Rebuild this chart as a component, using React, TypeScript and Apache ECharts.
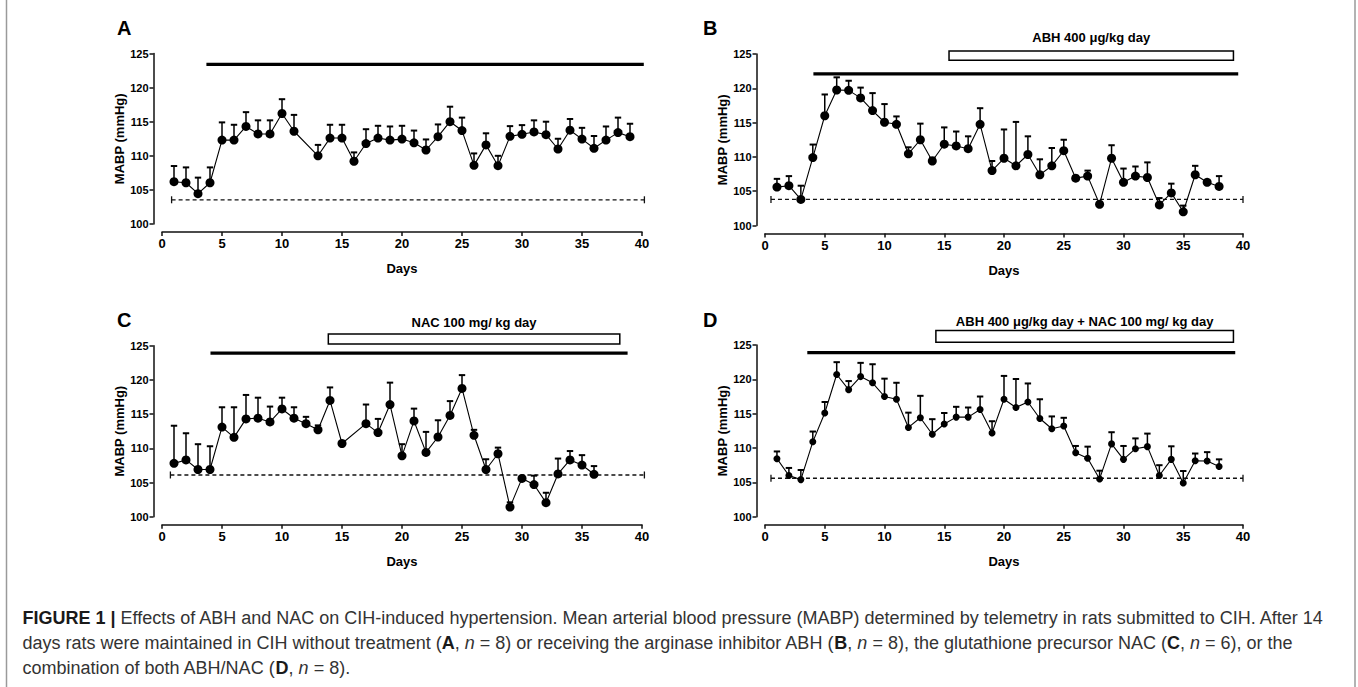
import React, { useEffect, useRef } from "react";
import * as echarts from "echarts";

const FONT = '"Liberation Sans", Arial, Helvetica, sans-serif';

// ---------- Data ----------
const daysA = [1, 2, 3, 4, 5, 6, 7, 8, 9, 10, 11, 13, 14, 15, 16, 17, 18, 19, 20, 21, 22, 23, 24, 25, 26, 27, 28, 29, 30, 31, 32, 33, 34, 35, 36, 37, 38, 39];
const meanA = [106.2, 106.05, 104.45, 106.05, 112.3, 112.3, 114.3, 113.2, 113.2, 116.2, 113.6, 110.0, 112.6, 112.6, 109.2, 111.8, 112.6, 112.3, 112.45, 111.9, 110.85, 112.8, 115.0, 113.7, 108.6, 111.6, 108.55, 112.85, 113.15, 113.5, 113.1, 111.0, 113.75, 112.45, 111.1, 112.3, 113.4, 112.8];
const semA = [2.3, 2.25, 2.35, 2.25, 2.6, 2.25, 2.1, 2.0, 2.0, 2.1, 2.4, 1.6, 1.95, 1.95, 1.3, 2.1, 1.8, 2.0, 1.95, 1.8, 1.55, 1.8, 2.2, 1.9, 1.75, 1.7, 1.45, 1.5, 1.35, 1.7, 1.9, 1.5, 1.65, 1.65, 1.8, 2.0, 2.2, 1.9];

const daysB = [1, 2, 3, 4, 5, 6, 7, 8, 9, 10, 11, 12, 13, 14, 15, 16, 17, 18, 19, 20, 21, 22, 23, 24, 25, 26, 27, 28, 29, 30, 31, 32, 33, 34, 35, 36, 37, 38];
const meanB = [105.6, 105.8, 103.8, 109.9, 116.0, 119.75, 119.7, 118.6, 116.75, 115.05, 114.75, 110.45, 112.5, 109.4, 111.85, 111.6, 111.2, 114.75, 108.0, 109.8, 108.7, 110.35, 107.4, 108.7, 110.9, 106.9, 107.2, 103.1, 109.8, 106.3, 107.2, 107.0, 103.0, 104.75, 102.0, 107.4, 106.3, 105.7];
const semB = [1.2, 1.4, 2.0, 1.9, 3.1, 1.85, 1.4, 1.5, 2.55, 2.65, 1.15, 0.95, 2.35, 0.5, 2.45, 2.1, 1.8, 2.35, 1.4, 4.2, 6.4, 2.65, 2.25, 2.6, 1.6, 0.3, 0.8, 0.2, 1.9, 2.0, 1.4, 2.2, 1.0, 1.35, 0.9, 1.3, 0.35, 1.5];

const daysC = [1, 2, 3, 4, 5, 6, 7, 8, 9, 10, 11, 12, 13, 14, 15, 17, 18, 19, 20, 21, 22, 23, 24, 25, 26, 27, 28, 29, 30, 31, 32, 33, 34, 35, 36];
const meanC = [107.8, 108.3, 106.9, 106.9, 113.1, 111.6, 114.3, 114.4, 113.85, 115.75, 114.4, 113.6, 112.7, 117.0, 110.7, 113.6, 112.3, 116.4, 108.9, 114.0, 109.4, 111.65, 114.8, 118.75, 111.9, 106.9, 109.2, 101.4, 105.6, 104.7, 102.05, 106.25, 108.3, 107.55, 106.2];
const semC = [5.5, 3.9, 3.7, 3.4, 2.9, 4.4, 3.5, 3.0, 2.25, 1.65, 1.6, 1.0, 0.65, 1.9, 0.3, 2.8, 2.0, 3.2, 1.7, 1.8, 3.0, 2.45, 2.1, 1.95, 0.8, 1.5, 0.9, 0.7, 0.3, 1.3, 1.45, 2.25, 1.3, 1.45, 1.2];

const daysD = [1, 2, 3, 4, 5, 6, 7, 8, 9, 10, 11, 12, 13, 14, 15, 16, 17, 18, 19, 20, 21, 22, 23, 24, 25, 26, 27, 28, 29, 30, 31, 32, 33, 34, 35, 36, 37, 38];
const meanD = [108.45, 106.0, 105.4, 110.9, 115.1, 120.7, 118.5, 120.4, 119.5, 117.5, 117.1, 113.0, 114.4, 112.0, 113.5, 114.5, 114.5, 115.6, 112.2, 117.1, 115.9, 116.7, 114.3, 112.8, 113.2, 109.3, 108.5, 105.5, 110.6, 108.35, 109.9, 110.2, 106.0, 108.35, 104.9, 108.15, 108.1, 107.3];
const semD = [1.05, 1.1, 1.4, 1.5, 1.6, 1.8, 1.25, 2.0, 2.7, 2.6, 2.4, 2.15, 3.2, 2.2, 1.6, 1.5, 1.4, 1.9, 1.7, 3.4, 4.15, 2.7, 2.8, 1.8, 1.2, 1.0, 1.7, 1.2, 1.7, 1.95, 1.5, 1.9, 1.5, 1.9, 1.75, 1.05, 1.3, 1.05];

// baseline (dashed) : [startDay, endDay, value]
const baselineA = [0.8, 40.2, 103.55];
const baselineB = [0.5, 40.0, 103.8];
const baselineC = [0.7, 40.2, 106.1];
const baselineD = [0.5, 40.0, 105.6];

// CIH period bar : [startDay, endDay, value]
const cihA = [3.7, 40.15, 123.4];
const cihB = [4.05, 39.6, 122.1];
const cihC = [4.04, 38.8, 123.9];
const cihD = [3.54, 39.35, 123.9];

// treatment box : [startDay, endDay, low, high]
const treatB = [15.4, 39.2, 124.1, 125.45];
const treatC = [13.86, 38.15, 125.25, 126.7];
const treatD = [14.3, 39.2, 125.4, 127.1];

const treatLabelB = "ABH 400 μg/kg day";
const treatLabelC = "NAC 100 mg/ kg day";
const treatLabelD = "ABH 400 μg/kg day + NAC 100 mg/ kg day";

const panelLetters = ["A", "B", "C", "D"];
const yTickMin = 100;
const yTickMax = 125;
const xTickMin = 0;
const xTickMax = 40;

const panels = [
  { letter: "A", days: daysA, mean: meanA, sem: semA, base: baselineA, cih: cihA, treat: null, label: "", labelGap: 11, grid: { left: 162, top: 53.5, width: 480, height: 170.5 }, sym: 9 },
  { letter: "B", days: daysB, mean: meanB, sem: semB, base: baselineB, cih: cihB, treat: treatB, label: treatLabelB, labelGap: 13, grid: { left: 765, top: 54, width: 478, height: 171.5 }, sym: 9 },
  { letter: "C", days: daysC, mean: meanC, sem: semC, base: baselineC, cih: cihC, treat: treatC, label: treatLabelC, labelGap: 12, grid: { left: 162, top: 345.7, width: 480, height: 171 }, sym: 9 },
  { letter: "D", days: daysD, mean: meanD, sem: semD, base: baselineD, cih: cihD, treat: treatD, label: treatLabelD, labelGap: 9.5, grid: { left: 765, top: 345, width: 478, height: 171.7 }, sym: 7 },
];

const captionLines = [
  "{b|FIGURE 1 |} Effects of ABH and NAC on CIH-induced hypertension. Mean arterial blood pressure (MABP) determined by telemetry in rats submitted to CIH. After 14",
  "days rats were maintained in CIH without treatment ({b|A}, {i|n} = 8) or receiving the arginase inhibitor ABH ({b|B}, {i|n} = 8), the glutathione precursor NAC ({b|C}, {i|n} = 6), or the",
  "combination of both ABH/NAC ({b|D}, {i|n} = 8).",
];

export default function App() {
  const ref = useRef<HTMLDivElement>(null);

  useEffect(() => {
    if (!ref.current) return;
    const chart = echarts.init(ref.current, null, { renderer: "svg" });

    const axisColor = "#111";
    const series: any[] = [];

    panels.forEach((p, i) => {
      // error bars (upper only)
      series.push({
        type: "custom",
        xAxisIndex: i,
        yAxisIndex: i,
        z: 2,
        data: p.days.map((d, k) => [d, p.mean[k], p.mean[k] + p.sem[k]]),
        encode: { x: 0, y: [1, 2] },
        renderItem: (params: any, api: any) => {
          const x = api.value(0);
          const m = api.value(1);
          const u = api.value(2);
          const p0 = api.coord([x, m]);
          const p1 = api.coord([x, u]);
          const hw = 3.2;
          return {
            type: "group",
            children: [
              { type: "line", shape: { x1: p0[0], y1: p0[1], x2: p1[0], y2: p1[1] }, style: { stroke: "#000", lineWidth: 1.5 } },
              { type: "line", shape: { x1: p1[0] - hw, y1: p1[1], x2: p1[0] + hw, y2: p1[1] }, style: { stroke: "#000", lineWidth: 2 } },
            ],
          };
        },
      });
      // mean line
      series.push({
        type: "line",
        xAxisIndex: i,
        yAxisIndex: i,
        z: 3,
        data: p.days.map((d, k) => [d, p.mean[k]]),
        symbol: "circle",
        symbolSize: p.sym,
        showSymbol: true,
        lineStyle: { color: "#000", width: 1.1 },
        itemStyle: { color: "#000" },
      });
      // dashed baseline with end caps
      series.push({
        type: "custom",
        xAxisIndex: i,
        yAxisIndex: i,
        z: 1,
        data: [p.base],
        renderItem: (params: any, api: any) => {
          const a = api.coord([api.value(0), api.value(2)]);
          const b = api.coord([api.value(1), api.value(2)]);
          const h = 3.5;
          return {
            type: "group",
            children: [
              { type: "line", shape: { x1: a[0], y1: a[1], x2: b[0], y2: b[1] }, style: { stroke: "#111", lineWidth: 1.3, lineDash: [4, 3] } },
              { type: "line", shape: { x1: a[0], y1: a[1] - h, x2: a[0], y2: a[1] + h }, style: { stroke: "#111", lineWidth: 1.3 } },
              { type: "line", shape: { x1: b[0], y1: b[1] - h, x2: b[0], y2: b[1] + h }, style: { stroke: "#111", lineWidth: 1.3 } },
            ],
          };
        },
      });
      // CIH bar
      series.push({
        type: "custom",
        xAxisIndex: i,
        yAxisIndex: i,
        z: 1,
        data: [p.cih],
        renderItem: (params: any, api: any) => {
          const a = api.coord([api.value(0), api.value(2)]);
          const b = api.coord([api.value(1), api.value(2)]);
          return { type: "line", shape: { x1: a[0], y1: a[1], x2: b[0], y2: b[1] }, style: { stroke: "#000", lineWidth: 3.2 } };
        },
      });
      // treatment box + label
      if (p.treat) {
        const label = p.label;
        const gap = p.labelGap;
        series.push({
          type: "custom",
          xAxisIndex: i,
          yAxisIndex: i,
          z: 1,
          data: [p.treat],
          renderItem: (params: any, api: any) => {
            const tl = api.coord([api.value(0), api.value(3)]);
            const br = api.coord([api.value(1), api.value(2)]);
            return {
              type: "group",
              children: [
                { type: "rect", shape: { x: tl[0], y: tl[1], width: br[0] - tl[0], height: br[1] - tl[1] }, style: { fill: "#fff", stroke: "#000", lineWidth: 1.5 } },
                { type: "text", style: { text: label, x: (tl[0] + br[0]) / 2, y: tl[1] - gap, align: "center", verticalAlign: "middle", fontFamily: FONT, fontWeight: "bold", fontSize: 13, fill: "#000" } },
              ],
            };
          },
        });
      }
    });

    const graphics: any[] = [];
    const letterPos = [
      [117, 28],
      [703, 28],
      [117, 320],
      [703, 320],
    ];
    panelLetters.forEach((L, i) => {
      graphics.push({
        type: "text",
        left: letterPos[i][0],
        top: letterPos[i][1] - 10,
        style: { text: L, fontFamily: FONT, fontWeight: "bold", fontSize: 20, fill: "#000" },
      });
    });
    // frame
    graphics.push({ type: "line", shape: { x1: 6.5, y1: 0, x2: 6.5, y2: 687 }, style: { stroke: "#9a9a9a", lineWidth: 1.5 } });
    graphics.push({ type: "line", shape: { x1: 1355, y1: 0, x2: 1355, y2: 687 }, style: { stroke: "#9a9a9a", lineWidth: 1.5 } });
    // caption
    const capFs = 18;
    captionLines.forEach((t, k) => {
      graphics.push({
        type: "text",
        x: 22.5,
        y: 618 + k * 25,
        style: {
          text: t,
          fontFamily: FONT,
          fontSize: capFs,
          fill: "#333",
          verticalAlign: "middle",
          rich: {
            b: { fontFamily: FONT, fontSize: capFs, fontWeight: "bold", fill: "#1a1a1a" },
            i: { fontFamily: FONT, fontSize: capFs, fontStyle: "italic", fill: "#333" },
          },
        },
      });
    });

    chart.setOption({
      animation: false,
      backgroundColor: "#fff",
      grid: panels.map((p) => ({ ...p.grid, containLabel: false })),
      xAxis: panels.map((p, i) => ({
        gridIndex: i,
        type: "value",
        min: xTickMin,
        max: xTickMax,
        interval: 5,
        offset: 8,
        name: "Days",
        nameLocation: "middle",
        nameGap: 30,
        nameTextStyle: { fontFamily: FONT, fontWeight: "bold", fontSize: 13, color: "#000" },
        axisLine: { show: true, onZero: false, lineStyle: { color: axisColor, width: 1.5 } },
        axisTick: { show: true, length: 4, lineStyle: { color: axisColor, width: 1.5 } },
        axisLabel: { fontFamily: FONT, fontWeight: "bold", fontSize: 13, color: "#000", margin: 5 },
        splitLine: { show: false },
      })),
      yAxis: panels.map((p, i) => ({
        gridIndex: i,
        type: "value",
        min: yTickMin,
        max: yTickMax,
        interval: 5,
        offset: 8.5,
        name: "MABP (mmHg)",
        nameLocation: "middle",
        nameGap: 25,
        nameTextStyle: { fontFamily: FONT, fontWeight: "bold", fontSize: 13, color: "#000" },
        axisLine: { show: true, onZero: false, lineStyle: { color: axisColor, width: 1.5 } },
        axisTick: { show: true, length: 4, lineStyle: { color: axisColor, width: 1.5 } },
        axisLabel: { fontFamily: FONT, fontWeight: "bold", fontSize: 11, color: "#000", margin: 5 },
        splitLine: { show: false },
      })),
      series,
      graphic: graphics,
    });

    return () => chart.dispose();
  }, []);

  return <div ref={ref} style={{ position: "absolute", left: 0, top: 0, width: 1358, height: 687, background: "#fff" }} />;
}
